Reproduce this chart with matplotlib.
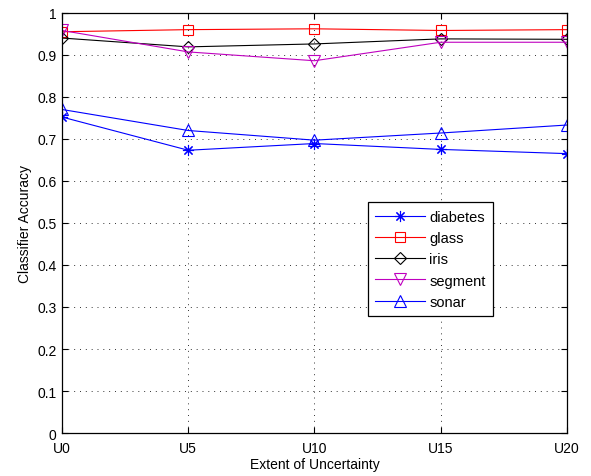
import matplotlib
matplotlib.use('Agg')
import matplotlib.pyplot as plt

plt.rcParams['font.family'] = ['Liberation Sans', 'DejaVu Sans']

# data
labels = ['U0', 'U5', 'U10', 'U15', 'U20']
diabetes = [0.752, 0.673, 0.689, 0.675, 0.665]
glass = [0.955, 0.960, 0.962, 0.958, 0.960]
iris = [0.940, 0.919, 0.926, 0.938, 0.937]
segment = [0.958, 0.907, 0.886, 0.930, 0.930]
sonar = [0.770, 0.720, 0.697, 0.714, 0.733]

x = list(range(len(labels)))

fig = plt.figure(figsize=(5.91, 4.77), dpi=100)
ax = fig.add_axes([0.105, 0.090, 0.854, 0.881])

# matlab-like asterisk marker (8 arms)
asterisk = (8, 2, 0)
series = [
    ('diabetes', diabetes, 'b', asterisk, 8),
    ('glass', glass, 'r', 's', 7),
    ('iris', iris, 'k', 'D', 6),
    ('segment', segment, 'm', 'v', 8),
    ('sonar', sonar, 'b', '^', 8),
]
for name, vals, c, m, ms in series:
    ax.plot(x, vals, color=c, marker=m, markersize=ms, markerfacecolor='none',
            markeredgecolor=c, linewidth=0.8, markeredgewidth=0.8, label=name)

ax.set_xlim(0, 4)
ax.set_ylim(0, 1)
ax.set_xticks(x)
ax.set_xticklabels(labels)
ax.set_yticks([i / 10 for i in range(11)])
ax.set_yticklabels(['0', '0.1', '0.2', '0.3', '0.4', '0.5', '0.6', '0.7', '0.8', '0.9', '1'])
ax.tick_params(direction='in', top=True, right=True, labelsize=10, length=4)
ax.tick_params(axis='x', pad=6)
ax.tick_params(axis='y', pad=4)
ax.grid(True, linestyle=(0, (1, 5)), color='k', linewidth=0.7, alpha=0.8)
for s in ax.spines.values():
    s.set_linewidth(0.9)

ax.set_xlabel('Extent of Uncertainty', fontsize=10, labelpad=1)
ax.set_ylabel('Classifier Accuracy', fontsize=10, labelpad=4)

leg = ax.legend(loc='upper left', bbox_to_anchor=(0.606, 0.549), fontsize=10.5,
                fancybox=False, edgecolor='k', framealpha=1, handlelength=3.4,
                borderpad=0.5, labelspacing=0.5, handletextpad=0.3,
                borderaxespad=0)
leg.get_frame().set_linewidth(0.9)

fig.savefig('out.png', dpi=100, facecolor='white')
